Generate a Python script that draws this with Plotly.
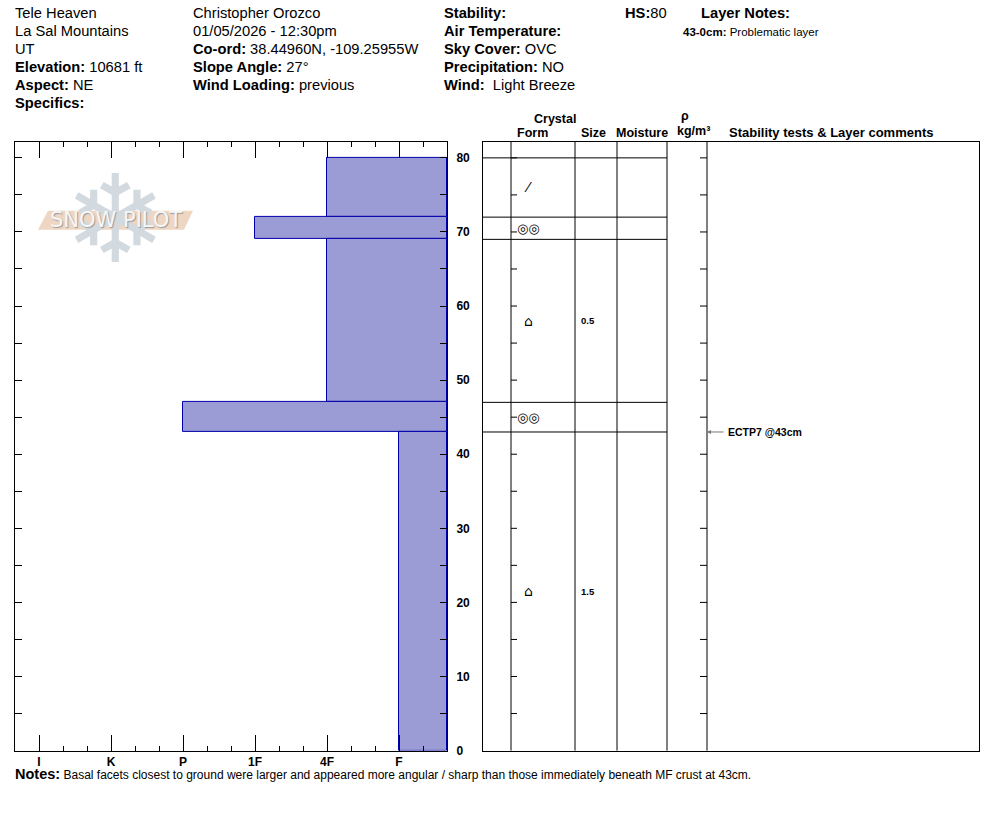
import plotly.graph_objects as go

# %%
# Snow pit data (layers listed top to bottom, heights in cm)
layer_top = [80, 72, 69, 47, 43]
layer_bottom = [72, 69, 47, 43, 0]
layer_hardness = ["4F", "1F", "4F", "P", "F"]
layer_form = ["⁄", "◎◎", "⌂", "◎◎", "⌂"]
layer_size = ["", "", "0.5", "", "1.5"]

hardness_labels = ["I", "K", "P", "1F", "4F", "F"]
hardness_pos = [1, 4, 7, 10, 13, 16]
x_max = 18

test_name = "ECTP7 @43cm"
test_depth = 43
snow_height = 80

# %%
# Page geometry helpers (page pixels -> paper)
W, H = 994, 840
Y_SCALE, Y_SHIFT = 0.9938, 1.2  # the photographed page comes out a touch squashed


def px(x):
    return x / W


def py(y):
    return 1 - ((y + Y_SHIFT) / Y_SCALE) / H


y_top = snow_height * (751 - 141) / (751 - 157)
font = "Liberation Sans, Arial, sans-serif"
fill = "#9b9bd6"
edge = "#0000aa"

fig = go.Figure()

pos_of = dict(zip(hardness_labels, hardness_pos))
bar_pos = [pos_of[h] for h in layer_hardness]
fig.add_trace(
    go.Bar(
        orientation="h",
        y=[(t + b) / 2 for t, b in zip(layer_top, layer_bottom)],
        x=[x_max - p for p in bar_pos],
        base=bar_pos,
        width=[t - b for t, b in zip(layer_top, layer_bottom)],
        marker=dict(color=fill, line=dict(color=edge, width=1)),
        hoverinfo="skip",
        showlegend=False,
    )
)

# empty trace to carry the right panel axes
fig.add_trace(
    go.Scatter(x=[None], y=[None], xaxis="x2", yaxis="y2", showlegend=False)
)

fig.update_layout(
    width=W,
    height=H,
    margin=dict(l=0, r=0, t=0, b=0),
    plot_bgcolor="white",
    paper_bgcolor="white",
    font=dict(family=font, color="black"),
    bargap=0,
    xaxis=dict(
        domain=[px(15), px(447)],
        range=[0, x_max],
        tickvals=hardness_pos,
        ticktext=["<b>%s</b>" % h for h in hardness_labels],
        ticks="inside",
        ticklen=16,
        tickcolor="black",
        tickfont=dict(size=12),
        ticklabelstandoff=0,
        minor=dict(dtick=1, tick0=0, ticks="inside", ticklen=5, tickcolor="black"),
        showline=True,
        linecolor="black",
        linewidth=1,
        mirror="allticks",
        showgrid=False,
        zeroline=False,
        fixedrange=True,
    ),
    yaxis=dict(
        domain=[py(751), py(141)],
        range=[0, y_top],
        side="right",
        dtick=10,
        tick0=0,
        tickprefix="<b>",
        ticksuffix="</b>",
        ticks="inside",
        ticklen=7,
        tickcolor="black",
        tickfont=dict(size=12),
        ticklabelstandoff=6,
        minor=dict(dtick=5, tick0=0, ticks="inside", ticklen=7, tickcolor="black"),
        showline=True,
        linecolor="black",
        linewidth=1,
        mirror="allticks",
        showgrid=False,
        zeroline=False,
        fixedrange=True,
    ),
    xaxis2=dict(
        domain=[px(483), px(979)],
        range=[0, 496],
        anchor="y2",
        showticklabels=False,
        ticks="",
        showline=True,
        linecolor="black",
        mirror=True,
        showgrid=False,
        zeroline=False,
        fixedrange=True,
    ),
    yaxis2=dict(
        domain=[py(751), py(141)],
        range=[0, y_top],
        anchor="x2",
        showticklabels=False,
        ticks="",
        showline=True,
        linecolor="black",
        mirror=True,
        showgrid=False,
        zeroline=False,
        fixedrange=True,
    ),
)

# %%
# Right panel: columns, layer lines, ticks
col_x = [28, 92, 134, 184, 224]
for cx in col_x:
    fig.add_shape(type="line", xref="x2", yref="y2 domain", x0=cx, x1=cx, y0=0, y1=1,
                  line=dict(color="black", width=1))

for b in sorted(set(layer_top + layer_bottom)):
    if b == 0:
        continue
    fig.add_shape(type="line", xref="x2", yref="y2", x0=0, x1=184, y0=b, y1=b,
                  line=dict(color="black", width=1))

for h in range(5, snow_height + 1, 5):
    fig.add_shape(type="line", xref="x2", yref="y2", x0=28, x1=34, y0=h, y1=h,
                  line=dict(color="black", width=1))
    fig.add_shape(type="line", xref="x2", yref="y2", x0=217, x1=224, y0=h, y1=h,
                  line=dict(color="black", width=1))

for t, b, f, s in zip(layer_top, layer_bottom, layer_form, layer_size):
    mid = (t + b) / 2
    fig.add_annotation(x=45, y=mid, xref="x2", yref="y2", text=f, showarrow=False,
                       xanchor="center", yanchor="middle",
                       font=dict(size=14 if f != "◎◎" else 13, family="DejaVu Sans"))
    if s:
        fig.add_annotation(x=96, y=mid, xref="x2", yref="y2", text="<b>%s</b>" % s,
                           xanchor="left", showarrow=False, font=dict(size=9.5))

# stability test arrow
fig.add_annotation(x=224, y=test_depth, xref="x2", yref="y2", ax=242, ay=test_depth,
                   axref="x2", ayref="y2", text="", showarrow=True, arrowhead=2,
                   arrowsize=0.8, arrowwidth=1, arrowcolor="#777777")
fig.add_annotation(x=243, y=test_depth, xref="x2", yref="y2", text="<b>%s</b>" % test_name,
                   xanchor="left", showarrow=False, font=dict(size=10.5))


# %%
# Header text
def label(x, y, text, size=14.7, anchor="left"):
    fig.add_annotation(x=px(x), y=py(y), xref="paper", yref="paper", text=text,
                       xanchor=anchor, yanchor="middle", showarrow=False,
                       font=dict(size=size))


col1 = ["Tele Heaven", "La Sal Mountains", "UT", "<b>Elevation:</b> 10681 ft",
        "<b>Aspect:</b> NE", "<b>Specifics:</b>"]
col2 = ["Christopher Orozco", "01/05/2026 - 12:30pm",
        "<b>Co-ord:</b> 38.44960N, -109.25955W", "<b>Slope Angle:</b> 27°",
        "<b>Wind Loading:</b> previous"]
col3 = ["<b>Stability:</b>", "<b>Air Temperature:</b>", "<b>Sky Cover:</b> OVC",
        "<b>Precipitation:</b> NO", "<b>Wind:</b>  Light Breeze"]
for i, t in enumerate(col1):
    label(13, 12 + 18 * i, t)
for i, t in enumerate(col2):
    label(191, 12 + 18 * i, t)
for i, t in enumerate(col3):
    label(442, 12 + 18 * i, t)
label(623, 12, "<b>HS:</b>%d" % snow_height)
label(699, 12, "<b>Layer Notes:</b>")
label(681, 31, "<b>43-0cm:</b> Problematic layer", size=11.5)

# column headers
label(555, 118, "<b>Crystal</b>", 12.5, "center")
label(532, 132, "<b>Form</b>", 12.5, "center")
label(593, 132, "<b>Size</b>", 12.5, "center")
label(642, 132, "<b>Moisture</b>", 12.5, "center")
label(685, 115, "<b>ρ</b>", 12.5, "center")
label(693, 130, "<b>kg/m³</b>", 12.5, "center")
label(831, 132, "<b>Stability tests & Layer comments</b>", 13, "center")

label(13, 774, "<b><span style='font-size:14.5px'>Notes:</span></b> Basal facets closest to ground "
      "were larger and appeared more angular / sharp than those immediately beneath MF crust at 43cm.",
      12)

# %%
# Snow Pilot watermark
fig.add_annotation(x=px(115), y=py(219), xref="paper", yref="paper", text="❄",
                   xanchor="center", yanchor="middle", showarrow=False,
                   font=dict(size=122, color="#d2dae0", family="DejaVu Sans"))
fig.add_shape(type="path", xref="paper", yref="paper",
              path="M %f %f L %f %f L %f %f L %f %f Z" % (
                  px(38), py(229), px(48), py(210), px(193), py(210), px(184), py(229)),
              fillcolor="#eed6c2", line=dict(width=0), layer="above")
fig.add_annotation(x=px(116), y=py(219.5), xref="paper", yref="paper", text="SNOW PILOT",
                   xanchor="center", yanchor="middle", showarrow=False,
                   font=dict(size=21, color="#f7f7f7", family="DejaVu Sans",
                             shadow="1px 1px 1px #9a9a9a"))

# drop the default page margin so the figure sits at the window origin
fig.write_html("out.html", config={"displayModeBar": False},
               post_script="document.body.style.margin = '0';")
